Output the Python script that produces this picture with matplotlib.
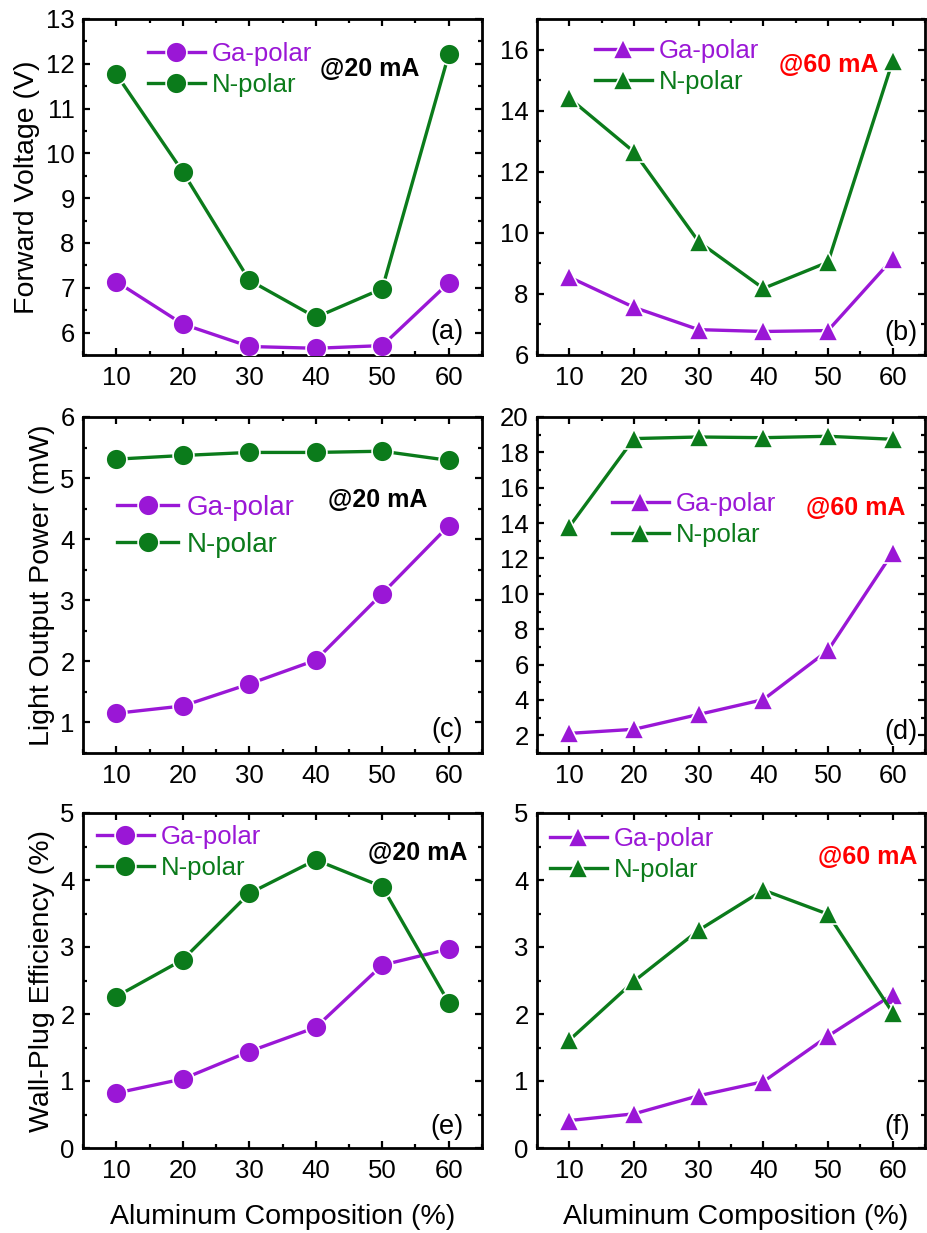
import matplotlib
matplotlib.use("Agg")
import matplotlib.pyplot as plt
from matplotlib.ticker import MultipleLocator

plt.rcParams['font.family'] = ['Liberation Sans', 'DejaVu Sans']

al = [10, 20, 30, 40, 50, 60]

# forward voltage (V)
vf_ga_20 = [7.14, 6.19, 5.69, 5.65, 5.71, 7.11]
vf_n_20 = [11.77, 9.59, 7.17, 6.34, 6.98, 12.21]
vf_ga_60 = [8.55, 7.56, 6.83, 6.77, 6.80, 9.15]
vf_n_60 = [14.41, 12.65, 9.71, 8.18, 9.04, 15.62]

# light output power (mW)
lop_ga_20 = [1.15, 1.27, 1.63, 2.02, 3.11, 4.22]
lop_n_20 = [5.31, 5.37, 5.42, 5.42, 5.44, 5.29]
lop_ga_60 = [2.11, 2.34, 3.18, 4.02, 6.80, 12.33]
lop_n_60 = [13.8, 18.78, 18.87, 18.83, 18.91, 18.74]

# wall-plug efficiency (%)
wpe_ga_20 = [0.82, 1.03, 1.44, 1.80, 2.73, 2.97]
wpe_n_20 = [2.26, 2.81, 3.80, 4.30, 3.90, 2.17]
wpe_ga_60 = [0.41, 0.51, 0.78, 0.99, 1.67, 2.29]
wpe_n_60 = [1.61, 2.49, 3.25, 3.85, 3.49, 2.02]

PURPLE = '#9a17d6'
GREEN = '#0b7b1b'
W, H = 927, 1233


def px(x, y):
    return x / W, 1 - y / H


fig = plt.figure(figsize=(W / 100, H / 100), dpi=100)


def make_ax(l, r, t, b):
    return fig.add_axes([l / W, 1 - b / H, (r - l) / W, (b - t) / H])


panels = [
    # axes box, data, marker, ylim, ticks, ylabel, legend (x, top, size, spacing), tag, panel label
    dict(box=(83, 482, 19, 355), ga=vf_ga_20, n=vf_n_20, m='o', ylim=(5.5, 13), maj=1, mnr=0.5,
         ylabel='Forward Voltage (V)', leg=(148, 42, 18.5, 0.28), tag='@20 mA', tc='black', tpos=(419, 69),
         lab='(a)', lpos=(463, 332)),
    dict(box=(537, 925, 19, 355), ga=vf_ga_60, n=vf_n_60, m='^', ylim=(6, 17), maj=2, mnr=1,
         ylabel=None, leg=(595, 39, 18.5, 0.28), tag='@60 mA', tc='red', tpos=(878, 65),
         lab='(b)', lpos=(917, 333)),
    dict(box=(83, 482, 417, 753), ga=lop_ga_20, n=lop_n_20, m='o', ylim=(0.5, 6), maj=1, mnr=0.5,
         ylabel='Light Output Power (mW)', leg=(117, 495, 20, 0.38), tag='@20 mA', tc='black', tpos=(427, 500),
         lab='(c)', lpos=(463, 730)),
    dict(box=(537, 925, 417, 753), ga=lop_ga_60, n=lop_n_60, m='^', ylim=(1, 20), maj=2, mnr=1,
         ylabel=None, leg=(612, 492, 18.5, 0.28), tag='@60 mA', tc='red', tpos=(905, 508),
         lab='(d)', lpos=(917, 732)),
    dict(box=(83, 482, 813, 1148), ga=wpe_ga_20, n=wpe_n_20, m='o', ylim=(0, 5), maj=1, mnr=0.5,
         ylabel='Wall-Plug Efficiency (%)', leg=(97, 825, 18.5, 0.28), tag='@20 mA', tc='black', tpos=(467, 853),
         lab='(e)', lpos=(463, 1127)),
    dict(box=(537, 925, 813, 1148), ga=wpe_ga_60, n=wpe_n_60, m='^', ylim=(0, 5), maj=1, mnr=0.5,
         ylabel=None, leg=(550, 827, 18.5, 0.28), tag='@60 mA', tc='red', tpos=(917, 857),
         lab='(f)', lpos=(910, 1127)),
]

for p in panels:
    ax = make_ax(*p['box'])
    ms = 15 if p['m'] == 'o' else 14.5
    ax.plot(al, p['ga'], color=PURPLE, lw=2.4, marker=p['m'], ms=ms, mec='white', mew=1.2,
            label='Ga-polar', zorder=3)
    ax.plot(al, p['n'], color=GREEN, lw=2.4, marker=p['m'], ms=ms, mec='white', mew=1.2,
            label='N-polar', zorder=3)
    ax.set_xlim(5, 65)
    ax.set_ylim(*p['ylim'])
    ax.xaxis.set_major_locator(MultipleLocator(10))
    ax.xaxis.set_minor_locator(MultipleLocator(5))
    ax.yaxis.set_major_locator(MultipleLocator(p['maj']))
    ax.yaxis.set_minor_locator(MultipleLocator(p['mnr']))
    ax.tick_params(which='both', direction='in', top=True, right=True, width=1.6,
                   labelsize=18.5)
    ax.tick_params(axis='x', pad=8)
    ax.tick_params(axis='y', pad=6)
    ax.tick_params(which='major', length=5)
    ax.tick_params(which='minor', length=3)
    for s in ax.spines.values():
        s.set_linewidth(2.0)
    if p['ylabel']:
        ax.set_ylabel(p['ylabel'], fontsize=20.5, labelpad=4)
    lx, ly, fs, sp = p['leg']
    ax.legend(loc='upper left', bbox_to_anchor=px(lx, ly), bbox_transform=fig.transFigure,
              frameon=False, fontsize=fs, labelcolor='linecolor', handlelength=2.2,
              handletextpad=0.3, labelspacing=sp, borderpad=0, borderaxespad=0, numpoints=1)
    tx, ty = px(*p['tpos'])
    fig.text(tx, ty, p['tag'], color=p['tc'], fontsize=18, fontweight='bold', ha='right', va='center')
    lx2, ly2 = px(*p['lpos'])
    fig.text(lx2, ly2, p['lab'], fontsize=19.5, ha='right', va='center')

for xc in (283, 736):
    x, y = px(xc, 1217)
    fig.text(x, y, 'Aluminum Composition (%)', fontsize=20.5, ha='center', va='center')

fig.savefig('out.png', dpi=100)
